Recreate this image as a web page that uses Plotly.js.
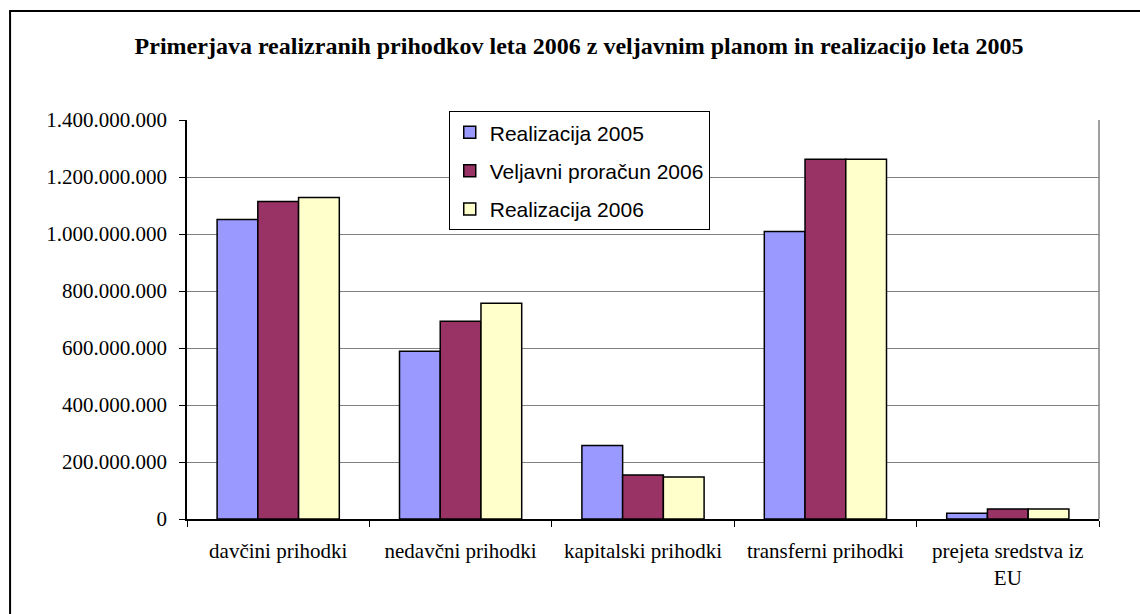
<!DOCTYPE html>
<html>
<head>
<meta charset="utf-8">
<script src="https://cdn.plot.ly/plotly-3.0.1.min.js"></script>
<style>
html, body { margin: 0; padding: 0; background: #ffffff; }
#chart { width: 1140px; height: 614px; }
</style>
</head>
<body>
<div id="chart"></div>
<script>
const categories = ["davčini prihodki", "nedavčni prihodki", "kapitalski prihodki", "transferni prihodki", "prejeta sredstva iz<br>EU"];
const seriesNames = ["Realizacija 2005", "Veljavni proračun 2006", "Realizacija 2006"];
const realizacija2005 = [1051000000, 589000000, 258000000, 1009000000, 20000000];
const veljavni2006 = [1114000000, 694000000, 154000000, 1262000000, 35000000];
const realizacija2006 = [1128000000, 757000000, 147000000, 1262000000, 35000000];
const yTickVals = [0, 200000000, 400000000, 600000000, 800000000, 1000000000, 1200000000, 1400000000];

const colors = ["#9999FF", "#993366", "#FFFFCC"];
const values = [realizacija2005, veljavni2006, realizacija2006];

const traces = values.map((v, i) => ({
  type: "bar",
  name: seriesNames[i],
  x: categories,
  y: v,
  legendgroup: "g" + i,
  marker: { color: colors[i], line: { color: "#000000", width: 1.5 } },
  hoverinfo: "x+y+name"
}));

const serif = "Liberation Serif, Times New Roman, serif";

const layout = {
  width: 1140,
  height: 614,
  paper_bgcolor: "#ffffff",
  plot_bgcolor: "#ffffff",
  separators: ",.",
  margin: { l: 187, r: 41, t: 120, b: 95, pad: 0 },
  title: {
    text: "<b>Primerjava realizranih prihodkov leta 2006 z veljavnim planom in realizacijo leta 2005</b>",
    font: { family: serif, size: 24, color: "#000000" },
    x: 0.508, xanchor: "center", xref: "container",
    y: 0.925, yanchor: "middle", yref: "container"
  },
  barmode: "group",
  bargap: 0.33,
  bargroupgap: 0,
  showlegend: true,
  legend: {
    x: 0.287, xanchor: "left", xref: "paper",
    y: 1.022, yanchor: "top", yref: "paper",
    bgcolor: "#ffffff",
    bordercolor: "#000000",
    borderwidth: 1,
    traceorder: "grouped",
    tracegroupgap: 8,
    itemwidth: 30,
    font: { family: "Liberation Sans, Arial, sans-serif", size: 21, color: "#000000" }
  },
  xaxis: {
    type: "category",
    tickson: "boundaries",
    ticks: "outside",
    ticklen: 6,
    tickcolor: "#000000",
    ticklabelstandoff: 12,
    showline: true,
    linecolor: "#000000",
    linewidth: 1.5,
    showgrid: false,
    tickfont: { family: serif, size: 21, color: "#000000" },
    fixedrange: true
  },
  yaxis: {
    range: [0, 1400000000],
    tickvals: yTickVals,
    tickformat: ",d",
    ticks: "outside",
    ticklen: 6,
    tickcolor: "#000000",
    ticklabelstandoff: 8,
    showline: true,
    linecolor: "#000000",
    linewidth: 1.5,
    showgrid: true,
    gridcolor: "#808080",
    gridwidth: 1,
    zeroline: false,
    tickfont: { family: serif, size: 21, color: "#000000" },
    fixedrange: true
  },
  shapes: [
    { type: "line", xref: "paper", yref: "paper", x0: 1, x1: 1, y0: 0, y1: 1, line: { color: "#808080", width: 1.5 } },
    { type: "rect", xref: "paper", yref: "paper", x0: -0.194, x1: 1.2, y0: -0.4, y1: 1.273, line: { color: "#000000", width: 2 }, fillcolor: "rgba(0,0,0,0)", layer: "below" }
  ]
};

Plotly.newPlot("chart", traces, layout, { displayModeBar: false });
</script>
</body>
</html>
